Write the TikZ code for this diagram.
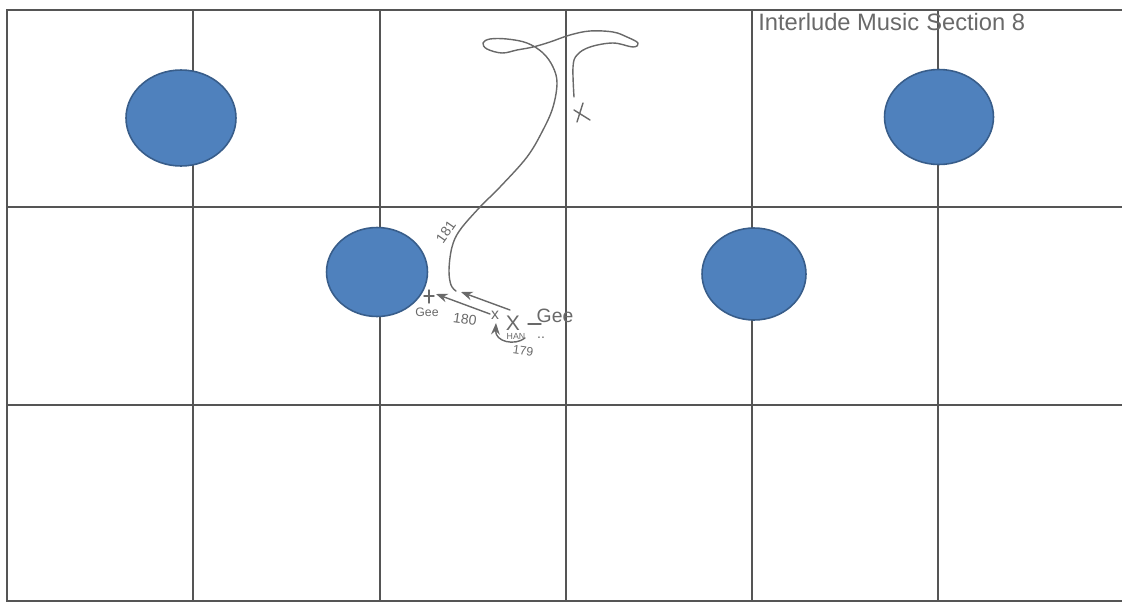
\documentclass[tikz,border=0pt]{standalone}
\usepackage{fontspec}
\newfontfamily\handfont{Liberation Sans}
\usetikzlibrary{arrows.meta,shapes.geometric}

\definecolor{gridgray}{RGB}{85,85,85}
\definecolor{pengray}{RGB}{105,105,105}
\definecolor{dotblue}{RGB}{79,129,189}
\definecolor{dotedge}{RGB}{56,93,138}

\begin{document}
\begin{tikzpicture}[
  x=0.02cm, y=-0.02cm,
  >=Stealth,
  cell/.style ={draw=gridgray,line width=0.9pt},
  dot/.style  ={ellipse,draw=dotedge,fill=dotblue,line width=0.9pt,inner sep=0pt},
  pen/.style  ={draw=pengray,line width=0.8pt,line cap=round,line join=round},
  scrawl/.style={text=pengray,inner sep=0pt,font=\handfont},
]
\useasboundingbox (0,0) rectangle (1122,602);

%% =====================================================
%%  Floor grid (6 x 3 cells)
%% =====================================================
\draw[cell] (1122,10) -- (7,10) -- (7,601) -- (1122,601);
\foreach \gx in {193,380,566,752,938}
  \draw[cell] (\gx,10) -- (\gx,601);
\foreach \gy in {207,405}
  \draw[cell] (7,\gy) -- (1122,\gy);

%% =====================================================
%%  Dancers (blue dots)
%% =====================================================
\node[dot,minimum width=2.2cm, minimum height=1.92cm] (d1) at (181,118) {};
\node[dot,minimum width=2.18cm,minimum height=1.9cm]  (d4) at (939,117) {};
\node[dot,minimum width=2.02cm,minimum height=1.78cm] (d2) at (377,272) {};
\node[dot,minimum width=2.08cm,minimum height=1.84cm] (d3) at (754,274) {};

%% =====================================================
%%  Title
%% =====================================================
\node[scrawl,anchor=base west,font=\handfont\fontsize{13.5}{15}\selectfont]
  (title) at (758,30) {Interlude Music\hspace{0.3em}Section 8};

%% =====================================================
%%  Travel path (pen scribble)
%% =====================================================
\draw[pen] plot[smooth,tension=0.6] coordinates {
  (574,97) (573,67) (577,55) (590,47) (613,43) (633,47) (638,43)
  (627,37) (613,32) (590,31) (570,35) (550,42) (533,47) (517,50)
  (502,53) (487,49) (483,43) (490,39) (507,39) (527,43) (543,53)
  (553,67) (557,83) (553,107) (543,130) (527,157) (500,187)
  (480,207) (460,230) (452,247) (449,270) (451,285) (456,291)};

% end mark top right
\draw[pen] (574,110) -- (590,120);
\draw[pen] (583,103) -- (577,122);

\node[scrawl,rotate=55,font=\handfont\fontsize{8}{8}\selectfont]
  (c181) at (446,232) {181};

%% =====================================================
%%  Counts near the front
%% =====================================================
\coordinate (a1s) at (510,310);
\coordinate (a1e) at (461,292);
\coordinate (a2s) at (490,314);
\coordinate (a2e) at (436,294);
\draw[pen,->] (a1s) -- (a1e);
\draw[pen,->] (a2s) -- (a2e);
\draw[pen] (429,290) -- (429,303);
\draw[pen] (424,296) -- (434,296);

\node[scrawl,font=\handfont\fontsize{7}{7}\selectfont] (gee1) at (427,312) {Gee};
\node[scrawl,rotate=-8,font=\handfont\fontsize{8}{8}\selectfont] (c180) at (465,319) {180};
\node[scrawl,font=\handfont\fontsize{9}{9}\selectfont] (x1) at (495,315) {x};
\node[scrawl,font=\handfont\fontsize{12}{12}\selectfont] (x2) at (513,323) {X};
\node[scrawl,font=\handfont\fontsize{11}{11}\selectfont] (gee2) at (555,316) {Gee};
\draw[pen] (528,324) -- (541,324);
\node[scrawl,font=\handfont\fontsize{8}{8}\selectfont] (dots) at (541,338) {..};
\node[scrawl,font=\handfont\fontsize{5}{5}\selectfont] (han) at (516,336) {HAN};
\node[scrawl,rotate=-8,font=\handfont\fontsize{7}{7}\selectfont] (c179) at (523,351) {179};

\coordinate (turn) at (525,338);
\draw[pen,->] (turn) .. controls (515,346) and (495,342) .. (496,323);

\end{tikzpicture}
\end{document}
